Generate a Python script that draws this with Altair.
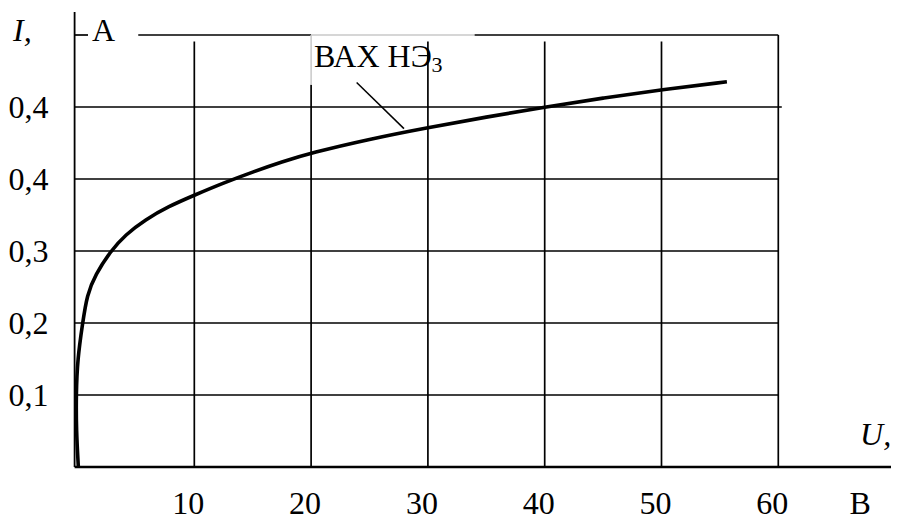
import altair as alt
import pandas as pd

# ---- data ----
curve_U = [0.07, -0.1, -0.12, 0.0, 0.44, 0.81, 1.53, 2.81, 4.1, 5.8, 7.8, 10.0, 12.5,
           15.0, 17.5, 20.0, 25.0, 30.0, 35.0, 40.0, 45.0, 50.0, 55.6]
curve_I = [0.0, 0.05, 0.1, 0.15, 0.2, 0.239, 0.267, 0.2995, 0.3226, 0.3435, 0.362, 0.3775, 0.3945,
           0.4098, 0.4238, 0.4363, 0.4555, 0.4715, 0.486, 0.50, 0.5125, 0.524, 0.535]

x_ticks = [10, 20, 30, 40, 50, 60]
x_labels = ["10", "20", "30", "40", "50", "60"]
y_ticks = [0.1, 0.2, 0.3, 0.4, 0.5]
y_labels = ["0,1", "0,2", "0,3", "0,4", "0,4"]

curve_name = "ВАХ НЭ"
curve_sub = "3"

FONT = "Liberation Serif, Times New Roman, serif"
FS = 32
BLACK = "#000000"
GRAY = "#c8c8c8"

x_min, x_max = -0.13, 69.65
y_min, y_max = 0.0, 0.6375
x_axis_left = -0.25
grid_top = 0.6
vgrid_top = 0.591
box_bottom = 0.531
box_right = 34.0
x_label_row = -0.0656

xs = alt.Scale(domain=[x_min, x_max], nice=False, zero=False)
ys = alt.Scale(domain=[y_min, y_max], nice=False, zero=False)

y_expr = " : ".join(f"abs(datum.value - {v}) < 1e-6 ? '{l}'" for v, l in zip(y_ticks, y_labels)) + " : ''"

x_axis = alt.Axis(values=x_ticks, labels=False, title=None, domain=False, ticks=False,
                  tickSize=0, grid=False)
y_axis = alt.Axis(values=y_ticks, labelExpr=y_expr, title=None, domain=False, ticks=False,
                  tickSize=0, grid=False, labelFont=FONT, labelFontSize=FS, labelColor=BLACK,
                  labelAlign="right", labelBaseline="middle", labelPadding=28, labelFlush=False)

# ---- grid / frame segments built from the tick arrays ----
segs = []
for v in y_ticks:
    segs.append(dict(x=x_axis_left, x2=60.3 if v == y_ticks[-1] else 60, y=v, y2=v, c=BLACK, w=1.7))
# top line (interrupted by "A" and the label box)
segs.append(dict(x=x_axis_left, x2=0.9, y=grid_top, y2=grid_top, c=BLACK, w=1.7))
segs.append(dict(x=5.2, x2=20, y=grid_top, y2=grid_top, c=BLACK, w=1.7))
segs.append(dict(x=20, x2=box_right, y=grid_top, y2=grid_top, c=GRAY, w=1.5))
segs.append(dict(x=box_right, x2=60, y=grid_top, y2=grid_top, c=BLACK, w=1.7))
for v in x_ticks:
    if v == 60:
        segs.append(dict(x=v, x2=v, y=0, y2=grid_top, c=BLACK, w=1.7))
    elif v == 20:
        segs.append(dict(x=v, x2=v, y=0, y2=box_bottom, c=BLACK, w=1.7))
        segs.append(dict(x=v, x2=v, y=box_bottom, y2=grid_top, c=GRAY, w=1.5))
    else:
        segs.append(dict(x=v, x2=v, y=0, y2=vgrid_top, c=BLACK, w=1.7))
# axes lines
segs.append(dict(x=x_axis_left, x2=x_axis_left, y=0, y2=0.632, c=BLACK, w=1.8))
segs.append(dict(x=x_axis_left, x2=x_max, y=0, y2=0, c=BLACK, w=2.6))
# leader line of the curve label
segs.append(dict(x=23.9, x2=27.95, y=0.534, y2=0.47, c=BLACK, w=1.5))
seg_df = pd.DataFrame(segs)

enc_x = lambda f: alt.X(f, scale=xs, axis=x_axis)
enc_y = lambda f: alt.Y(f, scale=ys, axis=y_axis)

rules = alt.Chart(seg_df).mark_rule(strokeCap="butt").encode(
    x=enc_x("x:Q"), x2="x2:Q", y=enc_y("y:Q"), y2="y2:Q",
    color=alt.Color("c:N", scale=None), strokeWidth=alt.StrokeWidth("w:Q", scale=None))

curve_df = pd.DataFrame({"U": curve_U, "I": curve_I, "k": list(range(len(curve_U)))})
curve = alt.Chart(curve_df).mark_line(color=BLACK, strokeWidth=3.6, interpolate="basis",
                                      strokeCap="butt").encode(
    x=enc_x("U:Q"), y=enc_y("I:Q"), order="k:Q")

xlab_df = pd.DataFrame({"v": x_ticks, "t": x_labels})
x_tick_text = alt.Chart(xlab_df).mark_text(font=FONT, fontSize=FS, align="center", dx=-6,
                                           baseline="alphabetic", color=BLACK).encode(
    x=enc_x("v:Q"), y=alt.Y(datum=x_label_row, scale=ys, axis=y_axis), text="t:N")

italic_df = pd.DataFrame({"x": [-5.52, 67.0], "y": [0.591, 0.031], "t": ["I,", "U,"]})
normal_df = pd.DataFrame({"x": [1.24, 66.1, 20.25], "y": [0.591, x_label_row, 0.556],
                          "t": ["A", "В", curve_name]})
sub_df = pd.DataFrame({"x": [30.3], "y": [0.549], "t": [curve_sub]})

t_italic = alt.Chart(italic_df).mark_text(font=FONT, fontSize=FS, fontStyle="italic", align="left",
                                          baseline="alphabetic", color=BLACK).encode(
    x=enc_x("x:Q"), y=enc_y("y:Q"), text="t:N")
t_normal = alt.Chart(normal_df).mark_text(font=FONT, fontSize=FS, align="left",
                                          baseline="alphabetic", color=BLACK).encode(
    x=enc_x("x:Q"), y=enc_y("y:Q"), text="t:N")
t_sub = alt.Chart(sub_df).mark_text(font=FONT, fontSize=22, align="left",
                                    baseline="alphabetic", color=BLACK).encode(
    x=enc_x("x:Q"), y=enc_y("y:Q"), text="t:N")

chart = alt.layer(rules, curve, x_tick_text, t_italic, t_normal, t_sub).properties(
    width=815, height=459,
    padding={"left": 68, "top": 0, "right": 0, "bottom": 55},
    autosize=alt.AutoSizeParams(type="none"),
    background="white",
).configure_view(stroke=None)

chart.save("out.html", embed_options={"renderer": "svg", "actions": False})
